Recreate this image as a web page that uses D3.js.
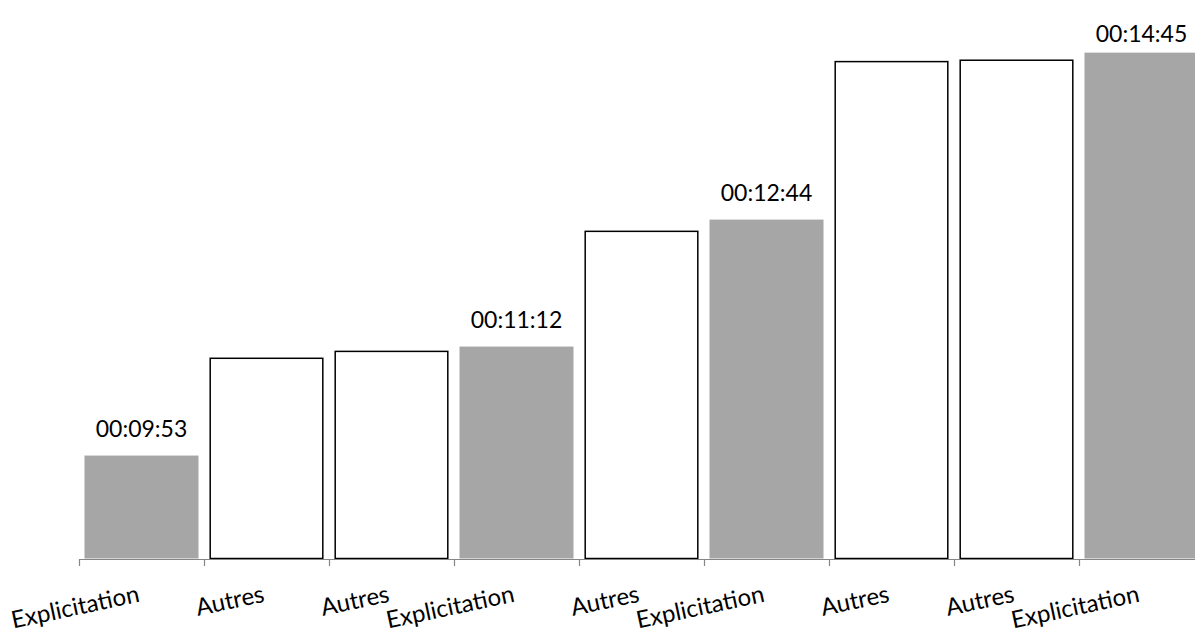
<!DOCTYPE html>
<html>
<head>
<meta charset="utf-8">
<script src="https://cdn.jsdelivr.net/npm/d3@7"></script>
<style>
  html, body { margin: 0; padding: 0; background: #fff; }
  svg { display: block; }
  text { font-family: Lato, "Open Sans", sans-serif; fill: #000; }
</style>
</head>
<body>
<svg id="chart" width="1195" height="635"></svg>
<script>
// ---- data ----
const categories = ["Explicitation", "Autres", "Autres", "Explicitation", "Autres", "Explicitation", "Autres", "Autres", "Explicitation"];
const durations = ["00:09:53", "00:11:04", "00:11:09", "00:11:12", "00:12:36", "00:12:44", "00:14:39", "00:14:40", "00:14:45"];
const labelledCategory = "Explicitation";
const yAxisMinDays = 0.006;   // axis minimum (Excel time in days)
const yAxisMaxDays = 0.0105;  // axis maximum

// ---- helpers ----
const toSec = s => { const [h, m, sec] = s.split(":").map(Number); return h * 3600 + m * 60 + sec; };
const data = categories.map((c, i) => ({ i, cat: c, label: durations[i], v: toSec(durations[i]) }));

const svg = d3.select("#chart");
const plotLeft = 79, step = 125, baseY = 558.5, topY = 22;

const x = d3.scaleBand()
  .domain(data.map(d => d.i))
  .range([plotLeft, plotLeft + step * data.length])
  .paddingInner(0.088)
  .paddingOuter(0.044);

const y = d3.scaleLinear()
  .domain([yAxisMinDays * 86400, yAxisMaxDays * 86400])
  .range([baseY, topY]);

// bars
svg.append("g").selectAll("rect")
  .data(data)
  .join("rect")
  .attr("x", d => d.cat === labelledCategory ? x(d.i) : x(d.i) + 0.7)
  .attr("width", d => d.cat === labelledCategory ? x.bandwidth() : x.bandwidth() - 1.4)
  .attr("y", d => y(d.v) + (d.cat === labelledCategory ? 0 : 0.7))
  .attr("height", d => baseY - y(d.v) - (d.cat === labelledCategory ? 0 : 0.7))
  .attr("fill", d => d.cat === labelledCategory ? "#a6a6a6" : "#ffffff")
  .attr("stroke", d => d.cat === labelledCategory ? "none" : "#000")
  .attr("stroke-width", 1.5);

// axis (ticks at category boundaries)
const xb = d3.scaleLinear().domain([0, data.length]).range([plotLeft, plotLeft + step * data.length]);
const axis = svg.append("g")
  .attr("transform", `translate(0,${baseY + 0.5})`)
  .call(d3.axisBottom(xb).tickValues(d3.range(0, data.length + 1)).tickSize(7).tickSizeOuter(0).tickFormat(""));
axis.select(".domain").attr("stroke", "#868686").attr("stroke-width", 1.2);
axis.selectAll(".tick line").attr("stroke", "#868686").attr("stroke-width", 1.2);

// category labels (rotated)
svg.append("g").selectAll("text")
  .data(data)
  .join("text")
  .attr("transform", d => `translate(${x(d.i) + x.bandwidth() / 2 - 1},${601.5}) rotate(-12)`)
  .attr("text-anchor", "end")
  .style("font-size", "24px")
  .text(d => d.cat);

// value labels
svg.append("g").selectAll("text")
  .data(data.filter(d => d.cat === labelledCategory))
  .join("text")
  .attr("x", d => x(d.i) + x.bandwidth() / 2)
  .attr("y", d => Math.max(y(d.v) - 19, 42))
  .attr("text-anchor", "middle")
  .style("font-size", "23px")
  .text(d => d.label);
</script>
</body>
</html>
